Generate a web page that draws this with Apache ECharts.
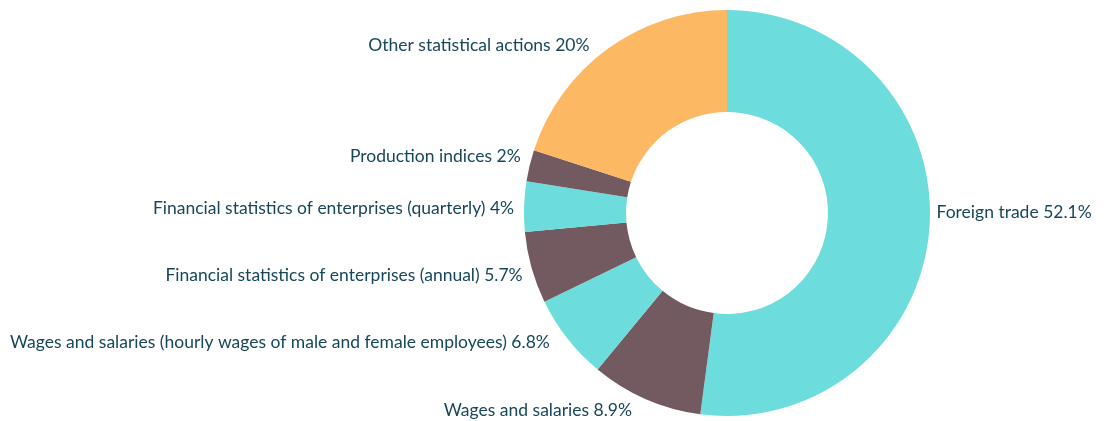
<!DOCTYPE html>
<html>
<head>
<meta charset="utf-8">
<script src="https://cdn.jsdelivr.net/npm/echarts@6/dist/echarts.min.js"></script>
<style>
  html, body { margin: 0; padding: 0; background: #fff; }
  #main { width: 1109px; height: 421px; }
</style>
</head>
<body>
<div id="main"></div>
<script>
var categories = [
  'Foreign trade',
  'Wages and salaries',
  'Wages and salaries (hourly wages of male and female employees)',
  'Financial statistics of enterprises (annual)',
  'Financial statistics of enterprises (quarterly)',
  'Production indices',
  'Other statistical actions'
];
// slice sizes (percent)
var values = [52.1, 8.9, 6.8, 5.7, 4.0, 2.5, 20.0];
// percent text printed in the labels
var labelPct = ['52.1%', '8.9%', '6.8%', '5.7%', '4%', '2%', '20%'];
var colors = ['#6cdcdc', '#725a60', '#6cdcdc', '#725a60', '#6cdcdc', '#725a60', '#fdb863'];

// small label nudges so the text sits where the original put it
var nudgeX = [-2, -6, -9, 0, -1, 0, -10];
var nudgeY = [-14, 9, 3, 7, 2, -9, -2];

var chart = echarts.init(document.getElementById('main'), null, { renderer: 'canvas' });

var pieData = categories.map(function (name, i) {
  return { name: name, value: values[i], itemStyle: { color: colors[i] } };
});

var option = {
  animation: false,
  series: [
    {
      type: 'pie',
      center: [727, 213],
      radius: [101, 203],
      startAngle: 90,
      clockwise: true,
      avoidLabelOverlap: false,
      data: pieData,
      label: {
        show: true,
        position: 'outside',
        color: '#17475a',
        fontFamily: 'Lato',
        fontSize: 17.5,
        formatter: function (p) { return p.name + ' ' + labelPct[p.dataIndex]; }
      },
      labelLine: { show: false, length: 2, length2: 2 },
      labelLayout: function (params) {
        return { dx: nudgeX[params.dataIndex], dy: nudgeY[params.dataIndex] };
      }
    }
  ]
};

chart.setOption(option);
</script>
</body>
</html>
